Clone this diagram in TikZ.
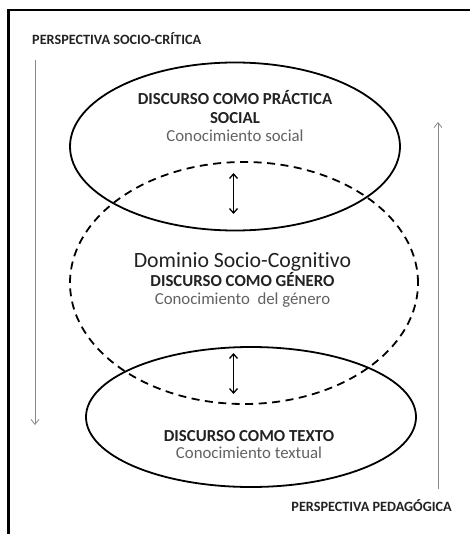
\documentclass[tikz,border=0pt]{standalone}
\usepackage{fontspec}
\setmainfont{Carlito}[Ligatures=NoCommon]
\usetikzlibrary{arrows.meta,shapes.geometric}
\definecolor{headc}{HTML}{222222}
\definecolor{subc}{HTML}{626262}
\definecolor{sidec}{HTML}{8A8A8A}
\begin{document}
\begin{tikzpicture}[x=1pt,y=-1pt,
  frameline/.style={line width=2.4pt, black},
  oval/.style={draw, ellipse, inner sep=0pt, line width=1.8pt, black},
  dashoval/.style={oval, dash pattern=on 8pt off 5.5pt},
  head/.style={anchor=base, font=\bfseries\fontsize{16.8}{18}\selectfont, text=headc, inner sep=0pt},
  big/.style={anchor=base, font=\fontsize{21.8}{24}\selectfont, text=headc, inner sep=0pt},
  sub/.style={anchor=base, font=\fontsize{16.8}{18}\selectfont, text=subc, inner sep=0pt},
  side/.style={font=\bfseries\fontsize{14.2}{16}\selectfont, text=headc, inner sep=0pt},
  sidearrow/.style={draw=sidec, line width=0.9pt, -{Straight Barb[length=5pt,width=8pt,line width=0.8pt]}},
  dbl/.style={line width=1.3pt, {Straight Barb[length=4.5pt,width=8pt]}-{Straight Barb[length=4.5pt,width=8pt]}}
]
\useasboundingbox[fill=white] (0,0) rectangle (469,534);
\draw[frameline] (8.5,540) -- (8.5,10) -- (475,10);

\node[side, anchor=base west] (tl) at (32,45) {PERSPECTIVA SOCIO-CRÍTICA};
\node[side, anchor=base east] (br) at (452,511.5) {PERSPECTIVA PEDAGÓGICA};

\coordinate (ls) at (35,60);
\coordinate (le) at (35,425);
\coordinate (rs) at (438,489);
\coordinate (re) at (438,122);
\draw[sidearrow] (ls) -- (le);
\draw[sidearrow] (rs) -- (re);

\node[oval, minimum width=330pt, minimum height=168pt] (social) at (235,146.5) {};
\node[dashoval, minimum width=348pt, minimum height=242pt] (genero) at (244,283) {};
\node[oval, minimum width=330pt, minimum height=140pt] (texto) at (251,417) {};

\node[head] (s1) at (235,105) {DISCURSO COMO PRÁCTICA};
\node[head] (s2) at (235,123.3) {SOCIAL};
\node[sub] (s3) at (235,141.5) {Conocimiento social};

\node[big] (g1) at (242.5,267.3) {Dominio Socio-Cognitivo};
\node[head] (g2) at (242.5,286.7) {DISCURSO COMO GÉNERO};
\node[sub] (g3) at (242.5,304) {Conocimiento \ del género};

\node[head] (t1) at (249,441) {DISCURSO COMO TEXTO};
\node[sub] (t2) at (249,458) {Conocimiento textual};

\coordinate (a1t) at (233.5,173);
\coordinate (a1b) at (233.5,214);
\coordinate (a2t) at (233.5,353);
\coordinate (a2b) at (233.5,394);
\draw[dbl] (a1t) -- (a1b);
\draw[dbl] (a2t) -- (a2b);
\end{tikzpicture}
\end{document}
